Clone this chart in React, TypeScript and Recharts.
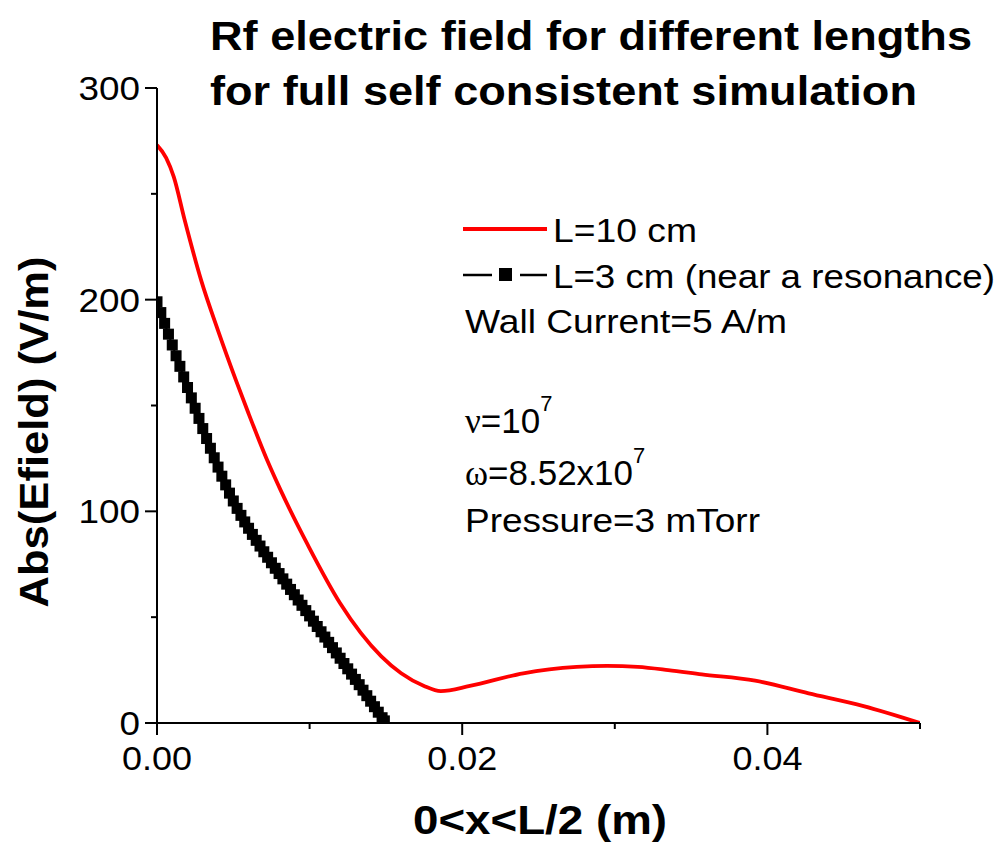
import { LineChart, Line, XAxis, YAxis } from "recharts";

// L = 10 cm run (red curve)
const redX = [
  0, 0.0006, 0.0011, 0.0018, 0.0029, 0.004, 0.0052, 0.006, 0.0073, 0.0081, 0.0099,
  0.012, 0.0147, 0.016, 0.0175, 0.0186, 0.0205, 0.024, 0.0275, 0.0295, 0.0315,
  0.0335, 0.0357, 0.0392, 0.0427, 0.0463, 0.05,
];
const redY = [
  273, 267, 258, 238, 209, 185.4, 161.4, 146.2, 122.8, 110, 83.9,
  56.6, 31.5, 23.5, 17.5, 15.1, 17.5, 23.5, 26.5, 27, 26.5,
  25, 23, 20, 14, 8, 0,
];

// L = 3 cm run (black squares)
const blackX = [
  0, 0.00025, 0.0005, 0.00075, 0.001, 0.00125, 0.0015, 0.00175, 0.002, 0.00225,
  0.0025, 0.00275, 0.003, 0.00325, 0.0035, 0.00375, 0.004, 0.00425, 0.0045, 0.00475,
  0.005, 0.00525, 0.0055, 0.00575, 0.006, 0.00625, 0.0065, 0.00675, 0.007, 0.00725,
  0.0075, 0.00775, 0.008, 0.00825, 0.0085, 0.00875, 0.009, 0.00925, 0.0095, 0.00975,
  0.01, 0.01025, 0.0105, 0.01075, 0.011, 0.01125, 0.0115, 0.01175, 0.012, 0.01225,
  0.0125, 0.01275, 0.013, 0.01325, 0.0135, 0.01375, 0.014, 0.01425, 0.0145, 0.01475,
  0.0149,
];
const blackY = [
  199, 193.9, 188.8, 183.7, 178.6, 173.5, 168.5, 163.5, 158.5, 153.6,
  148.7, 143.9, 139.1, 134.4, 129.8, 125.3, 120.9, 116.6, 112.5, 108.6,
  104.9, 101.4, 98.1, 95, 92, 89.1, 86.3, 83.6, 80.9, 78.3,
  75.7, 73.1, 70.6, 68.1, 65.6, 63.1, 60.6, 58.1, 55.6, 53.1,
  50.6, 48.1, 45.6, 43.1, 40.6, 38.1, 35.6, 33.1, 30.6, 28.1,
  25.6, 23.1, 20.6, 18.1, 15.5, 12.9, 10.3, 7.7, 5.1, 2.5,
  1,
];

const xTicks = [0, 0.01, 0.02, 0.03, 0.04, 0.05];
const xTickLabels = ["0.00", "", "0.02", "", "0.04", ""];
const yTicks = [0, 50, 100, 150, 200, 250, 300];
const yTickLabels = ["0", "", "100", "", "200", "", "300"];

const redData = redX.map((x, i) => ({ x, y: redY[i] }));
const blackData = blackX.map((x, i) => ({ x, y: blackY[i] }));

const FONT = "'Liberation Sans', Arial, sans-serif";

function XTick(props: any) {
  const { x, y, index } = props;
  const label = xTickLabels[index];
  const major = label !== "";
  return (
    <g>
      <line x1={x} x2={x} y1={y} y2={y + (major ? 12 : 6)} stroke="#000" strokeWidth={2} />
      {major && (
        <text
          x={x}
          y={y + 47}
          textAnchor="middle"
          fontSize={33}
          fontFamily={FONT}
          fill="#000"
          textLength={70}
          lengthAdjust="spacingAndGlyphs"
        >
          {label}
        </text>
      )}
    </g>
  );
}

function YTick(props: any) {
  const { x, y, index } = props;
  const label = yTickLabels[index];
  const major = label !== "";
  return (
    <g>
      <line x1={x} x2={x - (major ? 12 : 6)} y1={y} y2={y} stroke="#000" strokeWidth={2} />
      {major && (
        <text
          x={x - 17}
          y={y + 12}
          textAnchor="end"
          fontSize={33}
          fontFamily={FONT}
          fill="#000"
          textLength={label.length * 20.5}
          lengthAdjust="spacingAndGlyphs"
        >
          {label}
        </text>
      )}
    </g>
  );
}

function SquareDot(props: any) {
  const { cx, cy, index } = props;
  return <rect key={"d" + index} x={cx - 5.5} y={cy - 5.5} width={11} height={11} fill="#000" />;
}

export default function App() {
  return (
    <div style={{ position: "absolute", left: 0, top: 0, width: 1001, height: 852, background: "#fff" }}>
      <LineChart
        width={1001}
        height={852}
        margin={{ top: 88, right: 81, bottom: 89, left: 97 }}
      >
        <XAxis
          dataKey="x"
          type="number"
          domain={[0, 0.05]}
          ticks={xTicks}
          interval={0}
          allowDataOverflow
          height={40}
          stroke="#000"
          strokeWidth={2}
          tickLine={false}
          tickSize={0}
          tickMargin={0}
          tick={<XTick />}
        />
        <YAxis
          dataKey="y"
          type="number"
          domain={[0, 300]}
          ticks={yTicks}
          interval={0}
          allowDataOverflow
          width={60}
          stroke="#000"
          strokeWidth={2}
          tickLine={false}
          tickSize={0}
          tickMargin={0}
          tick={<YTick />}
        />
        <Line
          data={blackData}
          dataKey="y"
          type="linear"
          stroke="#000"
          strokeWidth={2}
          dot={SquareDot}
          isAnimationActive={false}
        />
        <Line
          data={redData}
          dataKey="y"
          type="monotone"
          stroke="#ff0000"
          strokeWidth={3.8}
          dot={false}
          isAnimationActive={false}
        />
      </LineChart>
      <svg
        width={1001}
        height={852}
        style={{ position: "absolute", left: 0, top: 0, pointerEvents: "none" }}
        fontFamily={FONT}
      >
        <text x={210} y={50} fontSize={40} fontWeight="bold" textLength={762} lengthAdjust="spacingAndGlyphs">
          Rf electric field for different lengths
        </text>
        <text x={210} y={105} fontSize={40} fontWeight="bold" textLength={707} lengthAdjust="spacingAndGlyphs">
          for full self consistent simulation
        </text>
        <text x={413} y={834} fontSize={40} fontWeight="bold" textLength={254} lengthAdjust="spacingAndGlyphs">
          0&lt;x&lt;L/2 (m)
        </text>
        <g transform="translate(34,432) rotate(-90)">
          <text x={0} y={14} textAnchor="middle" fontSize={40} fontWeight="bold" textLength={351} lengthAdjust="spacingAndGlyphs">
            Abs(Efield) (V/m)
          </text>
        </g>

        <line x1={463} x2={547} y1={229} y2={229} stroke="#ff0000" strokeWidth={3.8} />
        <text x={553} y={242} fontSize={34} textLength={144} lengthAdjust="spacingAndGlyphs">
          L=10 cm
        </text>
        <line x1={463} x2={492} y1={275} y2={275} stroke="#000" strokeWidth={2.5} />
        <rect x={499} y={268} width={13} height={13} fill="#000" />
        <line x1={520} x2={547} y1={275} y2={275} stroke="#000" strokeWidth={2.5} />
        <text x={553} y={288} fontSize={34} textLength={442} lengthAdjust="spacingAndGlyphs">
          L=3 cm (near a resonance)
        </text>
        <text x={465} y={333} fontSize={34} textLength={322} lengthAdjust="spacingAndGlyphs">
          Wall Current=5 A/m
        </text>
        <text x={465} y={433} fontSize={35}>
          <tspan fontFamily="'Liberation Serif', serif">ν</tspan>=10
          <tspan fontSize={22} dy={-22}>7</tspan>
        </text>
        <text x={465} y={485} fontSize={35}>
          <tspan fontFamily="'Liberation Serif', serif">ω</tspan>=8.52x10
          <tspan fontSize={22} dy={-22}>7</tspan>
        </text>
        <text x={465} y={532} fontSize={34} textLength={295} lengthAdjust="spacingAndGlyphs">
          Pressure=3 mTorr
        </text>
      </svg>
    </div>
  );
}
